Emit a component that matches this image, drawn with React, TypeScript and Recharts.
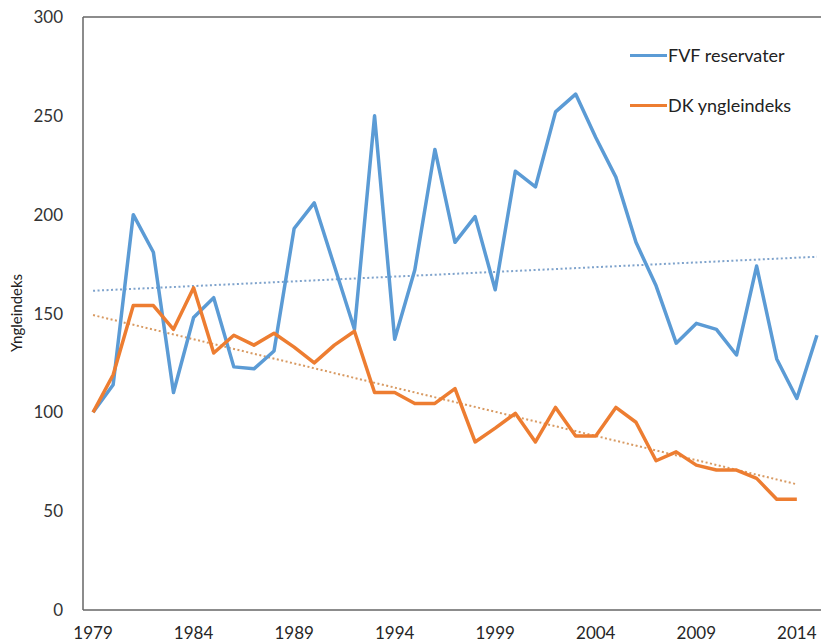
import React from 'react';
import { LineChart, Line, XAxis, YAxis, ReferenceLine } from 'recharts';

const years = [1979,1980,1981,1982,1983,1984,1985,1986,1987,1988,1989,1990,1991,1992,1993,1994,1995,1996,1997,1998,1999,2000,2001,2002,2003,2004,2005,2006,2007,2008,2009,2010,2011,2012,2013,2014,2015];
const fvfReservater = [100,114,200,181,110,148,158,123,122,131,193,206,174,142,250,137,172,233,186,199,162,222,214,252,261,239,219,186,164,135,145,142,129,174,127,107,139];
const dkYngleindeks = [100,119,154,154,142,163,130,139,134,140,133,125,134,141,110,110,104.5,104.5,112,85,92,99.5,85,102.5,88,88,102.5,95,75.5,80,73.3,70.8,70.8,66.6,56,56];
const fvfTrendYears = [1979, 2015];
const fvfTrendValues = [161.5, 178.7];
const dkTrendYears = [1979, 2014];
const dkTrendValues = [149.2, 63.6];
const xTicks = [1979,1984,1989,1994,1999,2004,2009,2014];
const yTicks = [0,50,100,150,200,250,300];

const BLUE = '#5B9BD5';
const ORANGE = '#ED7D31';
const FONT = 'Lato, "Open Sans", sans-serif';

const data = years.map((year, i) => {
  const fi = fvfTrendYears.indexOf(year);
  const di = dkTrendYears.indexOf(year);
  return {
    year,
    fvf: fvfReservater[i],
    dk: i < dkYngleindeks.length ? dkYngleindeks[i] : null,
    fvfTrend: fi >= 0 ? fvfTrendValues[fi] : null,
    dkTrend: di >= 0 ? dkTrendValues[di] : null,
  };
});

const legendItems = [
  { label: 'FVF reservater', color: BLUE },
  { label: 'DK yngleindeks', color: ORANGE },
];

const CustomLegend = () => (
  <div style={{ position: 'absolute', left: 630, top: 30, fontFamily: FONT }}>
    {legendItems.map((it) => (
      <div key={it.label} style={{ display: 'flex', alignItems: 'center', height: 50 }}>
        <div style={{ width: 37, height: 3, background: it.color }} />
        <span style={{ fontSize: 18, color: '#222', marginLeft: 1 }}>{it.label}</span>
      </div>
    ))}
  </div>
);

export default function App() {
  return (
    <div style={{ position: 'absolute', left: 0, top: 0, width: 821, height: 642, overflow: 'hidden', background: '#fff' }}>
      <LineChart width={840} height={642} data={data} margin={{ top: 17, right: 13, bottom: 0, left: 0 }}>
        <XAxis
          dataKey="year"
          type="number"
          domain={[1978.5, 2015.5]}
          ticks={xTicks}
          allowDataOverflow
          height={32}
          tickLine={false}
          tickSize={0}
          tickMargin={17}
          axisLine={{ stroke: '#666', strokeWidth: 1.5 }}
          tick={{ fill: '#262626', fontSize: 17, fontFamily: FONT }}
        />
        <YAxis
          domain={[0, 300]}
          ticks={yTicks}
          width={83}
          tickLine={false}
          tickSize={0}
          tickMargin={20}
          axisLine={{ stroke: '#666', strokeWidth: 1.5 }}
          tick={{ fill: '#333', fontSize: 17, fontFamily: FONT }}
          label={{
            content: () => (
              <text x={16} y={313} transform="rotate(-90 16 313)" textAnchor="middle" dominantBaseline="central" fontSize={15} fontFamily={FONT} fill="#222">
                Yngleindeks
              </text>
            ),
          }}
        />
        <ReferenceLine y={300} stroke="#666" strokeWidth={1.5} ifOverflow="extendDomain" />
        <Line dataKey="fvfTrend" stroke="#7FA3CC" strokeWidth={2} strokeDasharray="2 2.5" dot={false} connectNulls isAnimationActive={false} legendType="none" />
        <Line dataKey="dkTrend" stroke="#D89A62" strokeWidth={2} strokeDasharray="2 2.5" dot={false} connectNulls isAnimationActive={false} legendType="none" />
        <Line dataKey="fvf" stroke={BLUE} strokeWidth={3.5} dot={false} strokeLinejoin="round" isAnimationActive={false} />
        <Line dataKey="dk" stroke={ORANGE} strokeWidth={3.5} dot={false} strokeLinejoin="round" isAnimationActive={false} />
      </LineChart>
      <CustomLegend />
    </div>
  );
}
